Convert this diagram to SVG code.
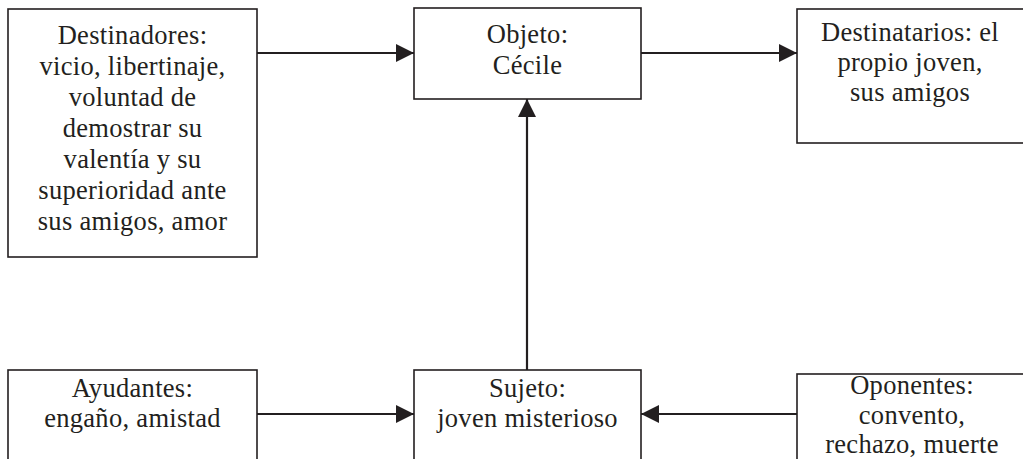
<svg xmlns="http://www.w3.org/2000/svg" width="1023" height="459" viewBox="0 0 1023 459">
<defs>
<style>
.box{fill:#fff;stroke:#231f20;stroke-width:1.6}
.t{font-family:'Liberation Serif','DejaVu Serif',serif;font-size:26.5px;letter-spacing:0.3px;fill:#231f20;text-anchor:middle}
.c{stroke:#231f20;stroke-width:2.2;fill:none}
</style>
<marker id="ah" markerWidth="18" markerHeight="18" refX="18" refY="9" orient="auto" markerUnits="userSpaceOnUse">
<path d="M0,0 L18,9 L0,18 Z" fill="#231f20"/>
</marker>
</defs>
<rect width="1023" height="459" fill="#fff"/>
<g id="connectors">
<line class="c" x1="257" y1="53" x2="414" y2="53" marker-end="url(#ah)"/>
<line class="c" x1="641" y1="53" x2="797" y2="53" marker-end="url(#ah)"/>
<line class="c" x1="527" y1="370" x2="527" y2="99" marker-end="url(#ah)"/>
<line class="c" x1="257" y1="414" x2="414" y2="414" marker-end="url(#ah)"/>
<line class="c" x1="797" y1="414" x2="641" y2="414" marker-end="url(#ah)"/>
</g>
<g font-family="'Liberation Serif', 'DejaVu Serif', serif">
<g id="destinadores">
<rect class="box" x="8" y="9" width="249" height="248"/>
<text class="t" x="132.5" y="44">Destinadores:</text>
<text class="t" x="132.5" y="75">vicio, libertinaje,</text>
<text class="t" x="132.5" y="106">voluntad de</text>
<text class="t" x="132.5" y="137">demostrar su</text>
<text class="t" x="132.5" y="168">valentía y su</text>
<text class="t" x="132.5" y="199">superioridad ante</text>
<text class="t" x="132.5" y="230">sus amigos, amor</text>
</g>
<g id="objeto">
<rect class="box" x="414" y="8" width="227" height="91"/>
<text class="t" x="527.5" y="43">Objeto:</text>
<text class="t" x="527.5" y="74">Cécile</text>
</g>
<g id="destinatarios">
<rect class="box" x="797" y="9" width="230" height="134"/>
<text class="t" x="910" y="41">Destinatarios: el</text>
<text class="t" x="910" y="71">propio joven,</text>
<text class="t" x="910" y="101">sus amigos</text>
</g>
<g id="ayudantes">
<rect class="box" x="8" y="370" width="249" height="100"/>
<text class="t" x="132.5" y="397">Ayudantes:</text>
<text class="t" x="132.5" y="427">engaño, amistad</text>
</g>
<g id="sujeto">
<rect class="box" x="414" y="370" width="227" height="100"/>
<text class="t" x="527.5" y="397">Sujeto:</text>
<text class="t" x="527.5" y="427">joven misterioso</text>
</g>
<g id="oponentes">
<rect class="box" x="797" y="374" width="230" height="100"/>
<text class="t" x="912" y="394">Oponentes:</text>
<text class="t" x="912" y="423.5">convento,</text>
<text class="t" x="912" y="453">rechazo, muerte</text>
</g>
</g>
</svg>
